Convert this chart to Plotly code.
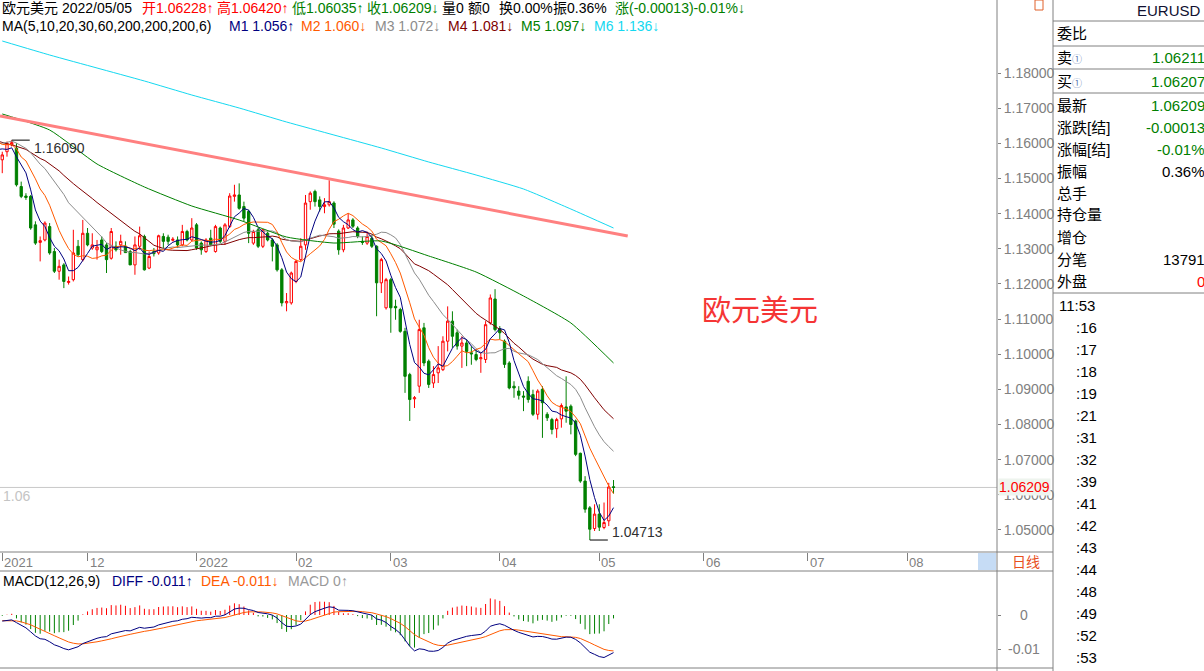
import numpy as np
import pandas as pd
import plotly.graph_objects as go

W, H = 1204, 671
FONT = "Arial, 'Liberation Sans', 'Noto Sans CJK SC', sans-serif"

# ---------------- data: EURUSD daily candles, 2021-11-05 .. 2022-05-05 ----------------
opens = [
    1.1553, 1.1576, 1.1595, 1.1586, 1.1477, 1.1450, 1.1449, 1.1368, 1.1318, 1.1325,
    1.1363, 1.1292, 1.1236, 1.1254, 1.1204, 1.1212, 1.1307, 1.1269, 1.1344, 1.1302,
    1.1297, 1.1325, 1.1311, 1.1273, 1.1307, 1.1311, 1.1307, 1.1292, 1.1254, 1.1307,
    1.1335, 1.1245, 1.1292, 1.1288, 1.1335, 1.1333, 1.1324, 1.1325, 1.1311, 1.1349,
    1.1325, 1.1368, 1.1316, 1.1292, 1.1330, 1.1292, 1.1359, 1.1321, 1.1363, 1.1449,
    1.1453, 1.1420, 1.1406, 1.1316, 1.1354, 1.1307, 1.1344, 1.1325, 1.1311, 1.1240,
    1.1146, 1.1146, 1.1207, 1.1269, 1.1311, 1.1434, 1.1463, 1.1439, 1.1420, 1.1425,
    1.1430, 1.1350, 1.1297, 1.1359, 1.1382, 1.1359, 1.1321, 1.1316, 1.1330, 1.1307,
    1.1203, 1.1132, 1.1212, 1.1136, 1.1127, 1.1065, 1.0942, 1.0873, 1.0909, 1.1075,
    1.0980, 1.0918, 1.0947, 1.0956, 1.1037, 1.1094, 1.1061, 1.1023, 1.1032, 1.1004,
    1.0999, 1.0987, 1.0985, 1.1089, 1.1157, 1.1072, 1.1037, 1.0975, 1.0909, 1.0895,
    1.0881, 1.0923, 1.0885, 1.0829, 1.0900, 1.0829, 1.0814, 1.0788, 1.0816, 1.0850,
    1.0852, 1.0810, 1.0718, 1.0639, 1.0563, 1.0504, 1.0545, 1.0507, 1.0526, 1.06228,
]
highs = [
    1.1576, 1.1605, 1.16090, 1.1600, 1.1491, 1.1458, 1.1453, 1.1378, 1.1335, 1.1378,
    1.1373, 1.1302, 1.1269, 1.1259, 1.1221, 1.1354, 1.1325, 1.1382, 1.1359, 1.1344,
    1.1325, 1.1335, 1.1316, 1.1359, 1.1321, 1.1340, 1.1321, 1.1297, 1.1335, 1.1363,
    1.1340, 1.1292, 1.1302, 1.1340, 1.1344, 1.1340, 1.1333, 1.1335, 1.1368, 1.1354,
    1.1387, 1.1373, 1.1321, 1.1330, 1.1354, 1.1368, 1.1363, 1.1373, 1.1458, 1.1482,
    1.1486, 1.1434, 1.1411, 1.1354, 1.1359, 1.1356, 1.1349, 1.1330, 1.1316, 1.1245,
    1.1174, 1.1235, 1.1269, 1.1330, 1.1453, 1.1463, 1.1468, 1.1449, 1.1444, 1.1495,
    1.1435, 1.1355, 1.1368, 1.1401, 1.1387, 1.1364, 1.1335, 1.1349, 1.1340, 1.1310,
    1.1274, 1.1217, 1.1217, 1.1155, 1.1132, 1.1075, 1.0947, 1.0881, 1.1098, 1.1089,
    1.0985, 1.0966, 1.1023, 1.1051, 1.1136, 1.1122, 1.1070, 1.1051, 1.1042, 1.1023,
    1.1013, 1.1004, 1.1094, 1.1170, 1.1185, 1.1080, 1.1042, 1.0980, 1.0923, 1.0909,
    1.0895, 1.0937, 1.0899, 1.0900, 1.0909, 1.0835, 1.0819, 1.0819, 1.0860, 1.0937,
    1.0857, 1.0814, 1.0720, 1.0653, 1.0568, 1.0573, 1.0573, 1.0578, 1.0634, 1.06420,
]
lows = [
    1.1515, 1.1562, 1.1591, 1.1477, 1.1444, 1.1439, 1.1354, 1.1311, 1.1264, 1.1321,
    1.1283, 1.1231, 1.1212, 1.1188, 1.1198, 1.1207, 1.1278, 1.1264, 1.1307, 1.1297,
    1.1269, 1.1288, 1.1231, 1.1269, 1.1292, 1.1283, 1.1288, 1.1254, 1.1226, 1.1297,
    1.1238, 1.1242, 1.1278, 1.1283, 1.1302, 1.1311, 1.1321, 1.1302, 1.1307, 1.1321,
    1.1321, 1.1297, 1.1283, 1.1288, 1.1307, 1.1289, 1.1316, 1.1311, 1.1359, 1.1434,
    1.1411, 1.1378, 1.1316, 1.1311, 1.1302, 1.1302, 1.1321, 1.1264, 1.1235, 1.1136,
    1.1122, 1.1141, 1.1202, 1.1264, 1.1297, 1.1411, 1.1420, 1.1406, 1.1401, 1.1420,
    1.1359, 1.1283, 1.1290, 1.1356, 1.1359, 1.1330, 1.1311, 1.1311, 1.1302, 1.1108,
    1.1174, 1.1127, 1.1061, 1.1098, 1.1061, 1.0890, 1.0810, 1.0847, 1.0890, 1.0966,
    1.0904, 1.0904, 1.0918, 1.0952, 1.1008, 1.1018, 1.1013, 1.0961, 1.0966, 1.0970,
    1.0980, 1.0947, 1.0975, 1.1084, 1.1065, 1.1042, 1.0961, 1.0900, 1.0876, 1.0871,
    1.0838, 1.0862, 1.0824, 1.0814, 1.0762, 1.0810, 1.0772, 1.0762, 1.0791, 1.0805,
    1.0772, 1.0710, 1.0634, 1.0549, 1.04713, 1.0497, 1.0497, 1.0502, 1.0511, 1.06035,
]
closes = [
    1.1567, 1.1600, 1.1602, 1.1482, 1.1449, 1.1446, 1.1359, 1.1316, 1.1323, 1.1373,
    1.1288, 1.1236, 1.1250, 1.1207, 1.1207, 1.1288, 1.1283, 1.1344, 1.1311, 1.1311,
    1.1305, 1.1292, 1.1269, 1.1349, 1.1297, 1.1321, 1.1289, 1.1254, 1.1311, 1.1337,
    1.1240, 1.1278, 1.1286, 1.1337, 1.1321, 1.1321, 1.1327, 1.1311, 1.1349, 1.1325,
    1.1359, 1.1302, 1.1297, 1.1325, 1.1311, 1.1363, 1.1321, 1.1368, 1.1450, 1.1453,
    1.1415, 1.1387, 1.1344, 1.1349, 1.1307, 1.1354, 1.1325, 1.1307, 1.1240, 1.1146,
    1.1150, 1.1231, 1.1264, 1.1307, 1.1430, 1.1458, 1.1434, 1.1420, 1.1425, 1.1434,
    1.1370, 1.1297, 1.1359, 1.1382, 1.1364, 1.1335, 1.1318, 1.1335, 1.1307, 1.1203,
    1.1269, 1.1212, 1.1132, 1.1132, 1.1065, 1.0937, 1.0871, 1.0876, 1.1070, 1.0975,
    1.0914, 1.0942, 1.0961, 1.1037, 1.1094, 1.1051, 1.1023, 1.1032, 1.1008, 1.1001,
    1.0985, 1.0990, 1.1084, 1.1160, 1.1070, 1.1061, 1.0971, 1.0904, 1.0904, 1.0883,
    1.0878, 1.0871, 1.0829, 1.0895, 1.0862, 1.0819, 1.0786, 1.0814, 1.0854, 1.0838,
    1.0800, 1.0715, 1.0639, 1.0559, 1.0502, 1.0545, 1.0508, 1.0521, 1.06222, 1.06209,
]
# estimated closes just before the first visible candle (warm-up for MA / MACD)
pre_closes = [
    1.1739, 1.1718, 1.1694, 1.1683, 1.1597, 1.1579, 1.1594, 1.1620, 1.1597, 1.1554,
    1.1553, 1.1572, 1.1552, 1.1529, 1.1594, 1.1597, 1.1601, 1.1608, 1.1636, 1.1653,
    1.1623, 1.1644, 1.1608, 1.1597, 1.1603, 1.1681, 1.1558, 1.1607, 1.1579, 1.1611,
    1.1556,
]
# long averages (bar number -> value)
ma_long_idx = [0, 10, 20, 30, 40, 50, 60, 70, 80, 90, 100, 110, 120, 129]
ma60_vals = [1.16834, 1.16378, 1.15411, 1.14757, 1.14216, 1.13818, 1.13334, 1.13163,
             1.13220, 1.12794, 1.12338, 1.11656, 1.10888, 1.09750]
ma200_vals = [1.18910, 1.18512, 1.18142, 1.17772, 1.17374, 1.17004, 1.16606, 1.16236,
              1.15866, 1.15468, 1.15098, 1.14700, 1.14130, 1.13590]
# drawn trend line (bar number, price)
trend_idx = [-0.475, 132.0]
trend_vals = [1.1678, 1.1336]

price_ticks = [1.05, 1.06, 1.07, 1.08, 1.09, 1.10, 1.11, 1.12, 1.13, 1.14, 1.15, 1.16, 1.17, 1.18]
macd_ticks = [0, -0.01]
macd_tick_text = ["0", "-0.01"]
ma_names = ["M1", "M2", "M3", "M4", "M5", "M6"]
ma_readout = ["1.056↑", "1.060↓", "1.072↓", "1.081↓", "1.097↓", "1.136↓"]
macd_readout = ["DIFF -0.011↑", "DEA -0.011↓", "MACD 0↑"]
panel_labels = ["委比", "卖①", "买①", "最新", "涨跌[结]", "涨幅[结]", "振幅", "总手", "持仓量", "增仓", "分笔", "外盘"]
panel_values = ["", "1.06211", "1.06207", "1.06209", "-0.00013", "-0.01%", "0.36%", "", "", "", "13791", "0"]
tick_times = ["11:53", ":16", ":17", ":18", ":19", ":21", ":31", ":32", ":39", ":41", ":42",
              ":43", ":44", ":48", ":49", ":52", ":53"]

# ---------------- derived ----------------
n = len(closes)
idx = np.arange(n)
dates = pd.bdate_range("2021-11-05", periods=n)
cal = pd.bdate_range("2021-11-05", "2022-08-31")
tick_idx = [0] + [i for i in range(1, len(cal)) if cal[i].month != cal[i - 1].month]
tick_text = ["2021"] + [("2022" if cal[i].month == 1 else f"{cal[i].month:02d}") for i in tick_idx[1:]]

allc = pd.Series(pre_closes + closes)
npre = len(pre_closes)
ma_x = np.arange(-1, n)
def sma(k):
    return allc.rolling(k).mean().iloc[npre - 1:].to_numpy()
ma5, ma10, ma20, ma30 = sma(5), sma(10), sma(20), sma(30)
ema12 = allc.ewm(span=12, adjust=False).mean()
ema26 = allc.ewm(span=26, adjust=False).mean()
diff = ema12 - ema26
dea = diff.ewm(span=9, adjust=False).mean()
hist = 2 * (diff - dea)
diff_w, dea_w, hist_w = diff.iloc[npre:].to_numpy(), dea.iloc[npre:].to_numpy(), hist.iloc[npre:].to_numpy()

# ---------------- geometry (pixels) ----------------
def fx(p): return p / W
def fy(p): return 1 - p / H
X0, DX = 2.25, 4.7385
PLOT_R = 997
xr = [-X0 / DX, (PLOT_R - X0) / DX]
PPX = 0.0002845
y_top = 1.18 + 73 * PPX
y_bot = 1.18 - (552 - 73) * PPX
m_top = (615 - 571) / 3400
m_bot = -(668 - 615) / 3400

C_RED, C_GRN = "#ff0000", "#008000"
MA_COL = ["#000080", "#ff5a00", "#8c8c8c", "#800000", "#008000", "#14d8f0"]

fig = go.Figure()
fig.add_trace(go.Candlestick(
    x=idx, open=opens, high=highs, low=lows, close=closes,
    increasing=dict(line=dict(color=C_RED, width=1), fillcolor="#ffffff"),
    decreasing=dict(line=dict(color=C_GRN, width=1), fillcolor=C_GRN),
    whiskerwidth=0, showlegend=False, hoverinfo="skip", xaxis="x", yaxis="y"))
for vals, col in zip([ma30, ma20, ma10, ma5], [MA_COL[3], MA_COL[2], MA_COL[1], MA_COL[0]]):
    fig.add_trace(go.Scatter(x=ma_x, y=vals, mode="lines", line=dict(color=col, width=1),
                             showlegend=False, hoverinfo="skip", xaxis="x", yaxis="y"))
for vals, col in [(ma60_vals, MA_COL[4]), (ma200_vals, MA_COL[5])]:
    fig.add_trace(go.Scatter(x=ma_long_idx, y=vals, mode="lines",
                             line=dict(color=col, width=1, shape="spline", smoothing=0.5),
                             showlegend=False, hoverinfo="skip", xaxis="x", yaxis="y"))

# MACD histogram as thin vertical sticks
for positive, col in [(True, C_RED), (False, C_GRN)]:
    hx, hy = [], []
    for i, v in zip(idx, hist_w):
        if (v >= 0) == positive:
            hx += [i, i, None]
            hy += [0, v, None]
    fig.add_trace(go.Scatter(x=hx, y=hy, mode="lines", line=dict(color=col, width=1),
                             showlegend=False, hoverinfo="skip", xaxis="x2", yaxis="y2"))
fig.add_trace(go.Scatter(x=idx, y=dea_w, mode="lines", line=dict(color="#ff5a00", width=1),
                         showlegend=False, hoverinfo="skip", xaxis="x2", yaxis="y2"))
fig.add_trace(go.Scatter(x=idx, y=diff_w, mode="lines", line=dict(color="#000080", width=1),
                         showlegend=False, hoverinfo="skip", xaxis="x2", yaxis="y2"))

GRAY = "#808080"
shapes = []
def pline(x0, y0, x1, y1, color=GRAY, width=1, layer="above"):
    shapes.append(dict(type="line", xref="paper", yref="paper", x0=fx(x0), y0=fy(y0), x1=fx(x1), y1=fy(y1),
                       line=dict(color=color, width=width), layer=layer))
pline(997, 0, 997, H)
pline(1053, 0, 1053, H)
pline(0, 552, 1053, 552)
pline(0, 571, 1053, 571)
pline(0, 668, 1053, 668)
for yy in [21, 46, 69, 93, 293]:
    pline(1053, yy, W, yy)
shapes.append(dict(type="rect", xref="paper", yref="paper", x0=fx(978), x1=fx(996), y0=fy(570), y1=fy(553),
                    fillcolor="#c6dcf5", line=dict(width=0), layer="below"))
shapes.append(dict(type="rect", xref="paper", yref="paper", x0=fx(1035), x1=fx(1043), y0=fy(10), y1=fy(0),
                    fillcolor="rgba(0,0,0,0)", line=dict(color="#e0602a", width=1)))
# last price line
shapes.append(dict(type="line", xref="paper", yref="y", x0=0, x1=fx(PLOT_R), y0=closes[-1], y1=closes[-1],
                   line=dict(color="#c8c8c8", width=1), layer="below"))
# trend line
shapes.append(dict(type="line", xref="x", yref="y", x0=trend_idx[0], y0=trend_vals[0], x1=trend_idx[1],
                   y1=trend_vals[1], line=dict(color="#ff8080", width=3)))
# high / low markers
i_hi, i_lo = int(np.argmax(highs)), int(np.argmin(lows))
hi, lo = max(highs), min(lows)
for i0, v in [(i_hi, hi), (i_lo, lo)]:
    shapes.append(dict(type="line", xref="x", yref="y", x0=i0, x1=i0 + 3.8, y0=v, y1=v,
                       line=dict(color="#000000", width=1)))

ann = []
def txt(x, y, s, color="#000000", size=14, anchor="left", **kw):
    ann.append(dict(xref="paper", yref="paper", x=fx(x), y=fy(y), text=s, showarrow=False,
                    xanchor=anchor, yanchor="middle", font=dict(family=FONT, size=size, color=color), **kw))

o, h, l, c = opens[-1], highs[-1], lows[-1], closes[-1]
chg = c - closes[-2]
pct = chg / closes[-2] * 100
amp = (h - l) / closes[-2] * 100
hdr1 = [
    ("欧元美元 " + dates[-1].strftime("%Y/%m/%d"), 0, "#000000"),
    (f"开{o:.5f}↑", 140, C_RED), (f"高{h:.5f}↑", 215, C_RED),
    (f"低{l:.5f}↑", 290, C_GRN), (f"收{c:.5f}↓", 365, C_GRN),
    ("量0", 440, "#000000"), ("额0", 466, "#000000"), ("换0.00%", 497, "#000000"),
    (f"振{amp:.2f}%", 551, "#000000"), (f"涨({chg:.5f}){pct:.2f}%↓", 613, C_GRN),
]
for s, x, col in hdr1:
    txt(x, 8, s, col)
txt(0, 26, "MA(5,10,20,30,60,200,200,200,6)")
for name, val, x, col in zip(ma_names, ma_readout, [227, 299, 373, 446, 519, 592], MA_COL):
    txt(x, 26, f"{name} {val}", col)
txt(1, 581, "MACD(12,26,9)")
for s, x, col in zip(macd_readout, [110, 199, 286], ["#000080", "#ff5a00", "#999999"]):
    txt(x, 581, s, col)

for ti, tt in zip(tick_idx, tick_text):
    ann.append(dict(xref="x", yref="paper", x=ti, y=fy(562), text=tt, showarrow=False, xanchor="left",
                    yanchor="middle", xshift=0, font=dict(family=FONT, size=13, color=GRAY)))
txt(1010, 562, "日线", "#e8501e", 14)

for v, s in zip(macd_ticks, macd_tick_text):
    ann.append(dict(xref="paper", yref="y2", x=fx(1024), y=v, text=s, showarrow=False, xanchor="center",
                    yanchor="middle", font=dict(family=FONT, size=14, color=GRAY)))

ann.append(dict(xref="paper", yref="y", x=fx(998), y=c, text=f"{c:.5f}", showarrow=False, xanchor="left",
                yanchor="middle", bgcolor="#eef4ee", borderpad=0, font=dict(family=FONT, size=14, color=C_RED)))
ann.append(dict(xref="paper", yref="y", x=fx(1), y=c, yshift=-9, text="1.06", showarrow=False, xanchor="left",
                yanchor="middle", font=dict(family=FONT, size=14, color="#c4c4c4")))
ann.append(dict(xref="x", yref="y", x=i_hi + 3.8, y=hi, xshift=2, yshift=-8, text=f"{hi:.5f}", showarrow=False,
                xanchor="left", yanchor="middle", font=dict(family=FONT, size=14, color="#303030")))
ann.append(dict(xref="x", yref="y", x=i_lo + 3.8, y=lo, xshift=2, yshift=8, text=f"{lo:.5f}", showarrow=False,
                xanchor="left", yanchor="middle", font=dict(family=FONT, size=14, color="#303030")))
txt(760, 311, "欧元美元", "#f53535", 29, anchor="center")

# right info panel
txt(1203, 10, "EURUSD", "#101030", 15, anchor="right")
val_cols = ["#000000", C_GRN, C_GRN, C_GRN, C_GRN, C_GRN, "#000000", "#000000", "#000000", "#000000", "#000000", C_RED]
for k, (lab, val, vc) in enumerate(zip(panel_labels, panel_values, val_cols)):
    yy = 33 + 24 * k if k < 3 else 105 + 22 * (k - 3)
    lab_html = lab.replace("①", '<span style="font-size:10px;color:#5878b0">①</span>')
    txt(1055, yy, lab_html, "#000000", 15)
    if val:
        txt(1207, yy, val, vc, 15, anchor="right")
for k, t in enumerate(tick_times):
    txt(1057 if k == 0 else 1074, 305 + 22 * k, t, "#000000", 15)

fig.update_layout(
    width=W, height=H, margin=dict(l=0, r=0, t=0, b=0),
    paper_bgcolor="#ffffff", plot_bgcolor="#ffffff", showlegend=False,
    font=dict(family=FONT),
    xaxis=dict(domain=[0, fx(PLOT_R)], range=xr, anchor="y", showgrid=False, zeroline=False, showline=False,
               tickvals=tick_idx, ticks="outside", ticklen=8, tickcolor=GRAY, showticklabels=False,
               rangeslider=dict(visible=False), fixedrange=True),
    yaxis=dict(domain=[fy(552), 1], range=[y_bot, y_top], side="right", anchor="x",
               tickvals=price_ticks, ticktext=[f"{v:.5f}" for v in price_ticks], ticks="outside", ticklen=3,
               tickcolor=GRAY, tickfont=dict(family=FONT, size=14, color=GRAY), showgrid=False, zeroline=False,
               showline=False),
    xaxis2=dict(domain=[0, fx(PLOT_R)], range=xr, anchor="y2", visible=False),
    yaxis2=dict(domain=[fy(668), fy(571)], range=[m_bot, m_top], side="right", anchor="x2",
                tickvals=macd_ticks, ticks="outside", ticklen=3, tickcolor=GRAY, showticklabels=False,
                showgrid=False, zeroline=False, showline=False),
    shapes=shapes, annotations=ann,
)
fig.write_html("out.html", config={"displayModeBar": False, "staticPlot": True},
               post_script="document.body.style.margin='0';document.body.style.padding='0';"
                           "document.body.style.overflow='hidden';")
